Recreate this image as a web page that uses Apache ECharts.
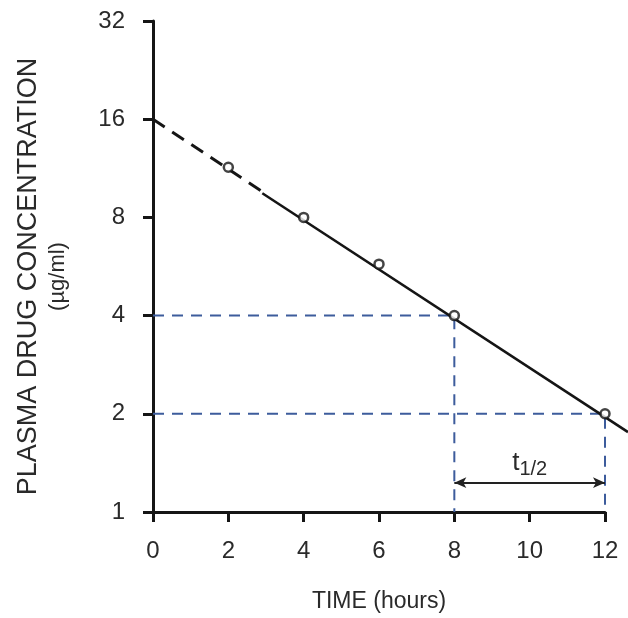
<!DOCTYPE html>
<html>
<head>
<meta charset="utf-8">
<script src="https://cdn.jsdelivr.net/npm/echarts@6/dist/echarts.min.js"></script>
<style>
    html, body { margin: 0; background: #fff; }
    #chart { width: 628px; height: 618px; }
</style>
</head>
<body>
<div id="chart"></div>
<script>
    // measured samples: time (hours) / plasma concentration (ug/ml)
    var sampleTimes = [2, 4, 6, 8, 12]
    var sampleConcs = [11.4, 8, 5.75, 4, 2]

    // fitted elimination line, back-extrapolated part is dashed
    var extrapTimes = [0, 2.9]
    var extrapConcs = [16, 9.6]
    var fitTimes = [2.9, 12.6]
    var fitConcs = [9.6, 1.81]

    // blue guide lines for reading off the half-life
    var guide4Times = [0, 8, 8]
    var guide4Concs = [4, 4, 1]
    var guide2Times = [0, 12, 12]
    var guide2Concs = [2, 2, 1]

    // double arrow marking t1/2
    var halfLifeTimes = [8, 12]
    var halfLifeConc = 1.23

    var xTicks = [0, 2, 4, 6, 8, 10, 12]
    var yTicks = [1, 2, 4, 8, 16, 32]

    function zip(xs, ys) {
        return xs.map(function (x, i) { return [x, ys[i]] })
    }

    var font = 'Liberation Sans, Arial, Helvetica, sans-serif'
    var ink = '#151515'
    var textColor = '#2a2a2a'
    var blue = '#3d5c9c'

    var chart = echarts.init(document.getElementById('chart'))
    chart.setOption({
        animation: false,
        backgroundColor: '#fff',
        grid: [
            {left: 153, right: 23, top: 21, bottom: 101},
            // same plot area but stretched to the right edge, so the fit line can run past 12 h
            {left: 153, right: 0, top: 21, bottom: 101}
        ],
        xAxis: [
            {
                type: 'value',
                min: xTicks[0],
                max: xTicks[xTicks.length - 1],
                interval: 2,
                name: 'TIME (hours)',
                nameLocation: 'middle',
                nameGap: 78,
                nameTextStyle: {fontFamily: font, fontSize: 23, color: textColor},
                axisLine: {lineStyle: {color: ink, width: 3}},
                axisTick: {length: 10, lineStyle: {color: ink, width: 3}},
                axisLabel: {fontFamily: font, fontSize: 24, color: textColor, margin: 27},
                splitLine: {show: false}
            },
            {
                gridIndex: 1,
                type: 'value',
                min: xTicks[0],
                max: fitTimes[fitTimes.length - 1],
                show: false
            }
        ],
        yAxis: [
            {
                type: 'log',
                logBase: 2,
                min: yTicks[0],
                max: yTicks[yTicks.length - 1],
                name: '{a|PLASMA DRUG CONCENTRATION}\n{b|(µg/ml)}',
                nameLocation: 'middle',
                nameRotate: 90,
                nameGap: 81,
                nameTextStyle: {
                    padding: [0, 20, 0, 0],
                    rich: {
                        a: {fontFamily: font, fontSize: 27, lineHeight: 30, color: textColor},
                        b: {fontFamily: font, fontSize: 22, lineHeight: 28, color: textColor}
                    }
                },
                axisLine: {lineStyle: {color: ink, width: 3}},
                axisTick: {length: 10, lineStyle: {color: ink, width: 3}},
                axisLabel: {fontFamily: font, fontSize: 24, color: textColor, margin: 28},
                splitLine: {show: false}
            },
            {
                gridIndex: 1,
                type: 'log',
                logBase: 2,
                min: yTicks[0],
                max: yTicks[yTicks.length - 1],
                show: false
            }
        ],
        series: [
            {
                type: 'line',
                data: zip(guide4Times, guide4Concs),
                symbol: 'none',
                lineStyle: {color: blue, width: 2, type: [11, 8]},
                z: 1
            },
            {
                type: 'line',
                data: zip(guide2Times, guide2Concs),
                symbol: 'none',
                lineStyle: {color: blue, width: 2, type: [11, 8]},
                z: 1
            },
            {
                type: 'line',
                data: zip(extrapTimes, extrapConcs),
                symbol: 'none',
                lineStyle: {color: ink, width: 3, type: [14, 9]},
                z: 2
            },
            {
                type: 'line',
                xAxisIndex: 1,
                yAxisIndex: 1,
                data: zip(fitTimes, fitConcs),
                symbol: 'none',
                lineStyle: {color: ink, width: 2.5},
                z: 2
            },
            {
                type: 'scatter',
                data: zip(sampleTimes, sampleConcs),
                symbol: 'circle',
                symbolSize: 9,
                itemStyle: {color: '#fff', borderColor: ink, borderWidth: 2.5},
                z: 5,
                markLine: {
                    silent: true,
                    symbol: ['arrow', 'arrow'],
                    symbolSize: [8, 12],
                    lineStyle: {color: '#222', width: 2, type: 'solid'},
                    label: {
                        show: true,
                        position: 'middle',
                        distance: 3,
                        formatter: '{t|t}{s|1/2}',
                        rich: {
                            t: {fontFamily: font, fontSize: 26, color: textColor},
                            s: {fontFamily: font, fontSize: 20, color: textColor, padding: [14, 0, 0, 0]}
                        }
                    },
                    data: [[
                        {coord: [halfLifeTimes[0], halfLifeConc]},
                        {coord: [halfLifeTimes[1], halfLifeConc]}
                    ]]
                }
            }
        ]
    })
</script>
</body>
</html>
